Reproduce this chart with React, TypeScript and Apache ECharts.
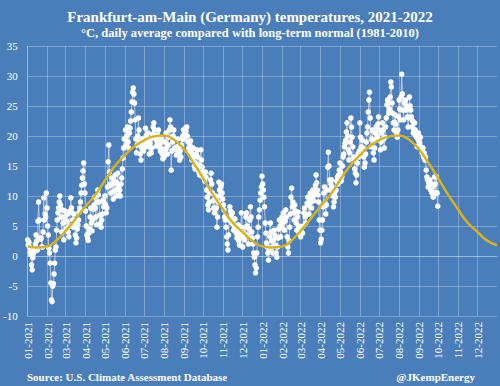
import React, { useEffect, useRef } from "react";
import * as echarts from "echarts";

const TITLE = "Frankfurt-am-Main (Germany) temperatures, 2021-2022";
const SUBTITLE = "°C, daily average compared with long-term normal (1981-2010)";
const SOURCE = "Source: U.S. Climate Assessment Database";
const HANDLE = "@JKempEnergy";
const SERIF = "'Liberation Serif', 'DejaVu Serif', serif";

// Axis range
const START_DATE = "2021-01-01";
const END_DATE = "2022-12-31";
const Y_MIN = -10;
const Y_MAX = 35;
const Y_STEP = 5;

// Daily average temperatures (°C), one array per month
const t2021_01 = [2.7,1.8,2.3,1.5,0.7,0.2,-1.5,-2.3,-0.3,0.4,1.2,0.8,2.0,3.5,2.5,1.0,5.8,9.0,6.0,3.0,2.8,3.0,1.5,1.5,4.0,9.7,6.0,7.0,6.5,10.5,8.0];
const t2021_02 = [5.0,3.5,1.3,0.5,-1.2,-4.5,-7.3,-7.6,-5.0,-4.6,-3.0,-1.2,1.0,1.5,4.3,6.0,7.2,8.0,9.0,10.0,8.5,6.5,4.0,7.7,5.5,2.7,6.5,7.5];
const t2021_03 = [6.0,4.5,5.8,7.0,4.0,3.2,5.0,7.5,9.7,8.0,7.2,6.0,4.8,7.0,5.5,3.5,2.2,3.0,4.5,5.2,6.0,7.3,8.0,9.0,10.5,11.8,13.0,14.2,15.5,12.0,10.5];
const t2021_04 = [7.5,5.0,3.5,3.0,2.6,3.8,4.5,6.5,8.0,5.5,4.2,6.0,7.8,8.5,9.8,8.0,6.5,5.2,9.0,11.0,10.2,9.0,6.8,5.5,4.8,6.0,7.0,9.3,8.2,8.8];
const t2021_05 = [10.0,8.5,7.2,8.0,11.5,15.7,18.5,14.0,12.0,10.5,11.8,13.0,12.0,9.5,10.8,12.5,13.5,11.0,10.0,12.2,13.8,11.5,10.2,11.0,10.0,12.0,13.0,14.5,16.3,18.0,19.5];
const t2021_06 = [19.5,21.0,18.5,20.0,21.5,19.0,18.0,20.5,21.3,22.5,24.0,25.7,27.3,28.0,27.0,25.5,22.7,19.5,17.2,18.5,20.0,23.0,21.0,19.0,17.0,16.0,18.0,19.5,18.5,17.5];
const t2021_07 = [18.0,19.5,21.3,20.0,18.5,19.0,20.5,18.2,17.0,18.8,19.5,17.2,18.0,20.3,21.5,22.2,21.0,20.0,19.5,18.3,19.0,20.2,21.0,19.5,18.2,17.5,18.8,19.5,17.0,16.2,17.8];
const t2021_08 = [16.5,17.7,19.0,20.5,18.0,17.0,18.5,19.8,21.0,22.7,21.5,14.3,17.5,19.0,20.0,21.0,19.5,18.0,17.7,16.8,18.2,19.5,18.0,17.2,16.0,17.5,16.5,18.5,19.5,20.0,21.0];
const t2021_09 = [19.5,20.5,21.3,20.8,21.5,20.0,19.0,18.0,17.2,18.5,19.2,17.5,16.0,16.8,18.0,16.5,15.0,14.5,15.5,17.0,17.7,16.5,15.2,14.0,13.5,15.0,17.7,16.0,14.8,13.2];
const t2021_10 = [14.0,13.0,12.5,14.0,13.2,11.0,9.8,8.5,7.7,9.0,10.5,12.7,13.8,12.0,10.5,9.2,8.0,7.2,9.5,10.0,8.0,4.8,6.5,9.0,12.3,11.0,10.0,11.5,12.0,10.5,9.5];
const t2021_11 = [8.5,7.7,6.5,6.0,4.8,3.2,2.0,1.0,3.5,6.0,8.2,7.5,6.8,5.5,7.2,6.0,4.3,5.0,6.2,4.5,3.8,3.0,4.0,5.2,2.5,1.8,3.2,4.8,7.2,4.0];
const t2021_12 = [1.5,3.0,3.8,2.7,4.8,6.5,7.2,5.0,3.5,2.0,4.5,6.0,8.2,6.5,4.0,3.0,2.0,0.5,-0.2,-1.5,-2.8,-2.0,0.5,3.2,4.8,6.5,7.7,9.3,10.5,11.5,13.3];
const t2022_01 = [12.0,11.0,9.8,8.2,5.5,3.8,2.2,1.5,0.5,-0.7,1.0,3.2,5.5,4.0,2.5,1.5,0.5,2.7,4.3,3.5,1.8,0.5,-0.2,1.5,3.0,4.5,6.0,5.0,3.2,4.8,6.5];
const t2022_02 = [5.5,7.2,6.0,4.3,5.8,7.7,6.5,3.2,1.5,0.5,2.5,4.8,7.0,9.8,11.3,8.2,9.0,7.2,6.0,8.5,7.5,5.5,4.3,6.5,7.3,5.0,3.8,4.5];
const t2022_03 = [3.2,4.0,4.8,3.8,5.0,7.2,8.0,6.5,5.5,6.8,8.8,9.8,8.5,7.0,9.3,10.5,9.0,8.0,9.5,11.0,10.0,9.2,10.5,11.8,13.5,12.2,11.0,10.2,9.0,6.0,4.3];
const t2022_04 = [2.2,2.8,4.3,6.0,8.2,10.5,11.5,8.8,7.0,8.5,11.0,14.8,17.3,15.0,12.7,11.0,12.0,12.7,11.5,10.0,8.2,9.0,10.5,9.8,11.0,12.5,13.2,12.0,13.5,14.3];
const t2022_05 = [15.5,14.0,12.5,13.2,15.0,16.5,17.0,18.2,18.8,19.3,20.7,22.2,20.0,17.7,16.0,17.2,19.0,23.0,21.5,19.8,18.2,16.5,16.0,14.5,13.8,12.2,13.5,15.5,17.0,16.5,17.5];
const t2022_06 = [22.2,19.8,18.2,17.7,19.3,18.0,16.5,14.8,15.5,17.0,19.0,20.5,21.5,24.0,26.0,27.3,23.0,18.2,19.5,21.0,19.3,17.2,16.0,18.0,20.5,21.5,19.5,20.0,22.0,23.2];
const t2022_07 = [21.0,19.3,17.7,19.0,20.5,22.2,21.0,19.5,18.0,19.8,21.5,23.0,25.2,26.0,25.5,23.8,24.5,26.5,29.0,28.2,25.5,23.8,22.2,21.0,22.3,23.5,22.0,20.5,19.8,21.0,23.2];
const t2022_08 = [26.0,24.5,22.7,26.5,30.3,27.0,24.3,22.7,25.5,25.7,26.0,24.3,25.0,23.2,21.5,23.0,26.5,25.0,24.3,23.2,21.5,22.5,20.5,21.0,22.2,21.0,20.0,19.8,18.2,19.5,20.5];
const t2022_09 = [19.3,18.8,19.8,18.2,17.7,17.2,18.0,16.5,17.2,16.0,16.5,14.3,13.2,12.7,11.5,12.2,11.5,12.7,11.0,12.0,10.5,11.5,9.8,10.5,13.2,12.0,10.5,13.2,10.5,8.3];

// Long-term normal (1981-2010), value on the 1st and 15th of each month (Jan..Dec)
const NORMAL_1ST = [1.6,1.6,4.2,8.3,12.6,16.8,19.3,20.1,17.8,12.9,7.7,4.0];
const NORMAL_15TH = [1.4,2.6,6.0,10.0,14.8,18.2,19.9,19.5,15.6,10.4,5.6,2.6];
const NORMAL_DEC31 = 1.8;
const NORMAL_YEARS = [2021, 2022];

const DAILY = [
  ...t2021_01, ...t2021_02, ...t2021_03, ...t2021_04, ...t2021_05, ...t2021_06,
  ...t2021_07, ...t2021_08, ...t2021_09, ...t2021_10, ...t2021_11, ...t2021_12,
  ...t2022_01, ...t2022_02, ...t2022_03, ...t2022_04, ...t2022_05, ...t2022_06,
  ...t2022_07, ...t2022_08, ...t2022_09,
];

const DAY_MS = 86400000;
const startMs = Date.parse(START_DATE + "T00:00:00Z");
const endMs = Date.parse(END_DATE + "T00:00:00Z");
const DATES: string[] = [];
for (let t = startMs; t <= endMs; t += DAY_MS) {
  DATES.push(new Date(t).toISOString().slice(0, 10));
}
const dayIndex = (y: number, m: number, d: number) =>
  Math.round((Date.UTC(y, m, d) - startMs) / DAY_MS);

const NORMAL: [number, number][] = [];
NORMAL_YEARS.forEach((y) => {
  for (let m = 0; m < 12; m++) {
    NORMAL.push([dayIndex(y, m, 1), NORMAL_1ST[m]]);
    NORMAL.push([dayIndex(y, m, 15), NORMAL_15TH[m]]);
  }
});
NORMAL.push([DATES.length - 1, NORMAL_DEC31]);

const isMonthStart = (i: number) => DATES[i] && DATES[i].slice(8, 10) === "01";

export default function App() {
  const ref = useRef<HTMLDivElement>(null);
  useEffect(() => {
    if (!ref.current) return;
    const chart = echarts.init(ref.current, undefined, { renderer: "svg" });
    const gridColor = "rgba(255,255,255,0.28)";
    chart.setOption({
      animation: false,
      backgroundColor: "#4a7ebb",
      title: [
        {
          text: TITLE,
          left: "center",
          top: 4,
          textStyle: { fontFamily: SERIF, fontWeight: "bold", fontSize: 15, color: "#ffffff" },
        },
        {
          text: SUBTITLE,
          left: "center",
          top: 21,
          textStyle: { fontFamily: SERIF, fontWeight: "bold", fontSize: 12.5, color: "#ffffff" },
        },
        {
          text: SOURCE,
          left: 22,
          top: 366,
          textStyle: { fontFamily: SERIF, fontWeight: "bold", fontSize: 11, color: "#ffffff" },
        },
        {
          text: HANDLE,
          right: 20,
          top: 366,
          textStyle: { fontFamily: SERIF, fontWeight: "bold", fontSize: 11, color: "#ffffff" },
        },
      ],
      grid: { left: 26, right: 3, top: 46, bottom: 70, containLabel: false },
      xAxis: {
        type: "category",
        data: DATES,
        boundaryGap: false,
        axisLine: { show: true, lineStyle: { color: gridColor } },
        axisTick: { show: false },
        axisLabel: {
          interval: (i: number) => isMonthStart(i),
          rotate: 90,
          margin: 6,
          color: "#ffffff",
          fontFamily: SERIF,
          fontSize: 11,
          formatter: (v: string) => v.slice(5, 7) + "-" + v.slice(0, 4),
        },
        splitLine: {
          show: true,
          interval: (i: number) => isMonthStart(i),
          lineStyle: { color: gridColor, width: 1 },
        },
      },
      yAxis: {
        type: "value",
        min: Y_MIN,
        max: Y_MAX,
        interval: Y_STEP,
        axisLine: { show: true, lineStyle: { color: gridColor } },
        axisTick: { show: false },
        axisLabel: { color: "#ffffff", fontFamily: SERIF, fontSize: 11, margin: 10 },
        splitLine: { show: true, lineStyle: { color: gridColor, width: 1 } },
      },
      series: [
        {
          name: "Daily",
          type: "line",
          data: DAILY,
          symbol: "circle",
          symbolSize: 5.5,
          showAllSymbol: true,
          itemStyle: { color: "#ffffff", borderWidth: 0 },
          lineStyle: { color: "rgba(200,206,218,0.9)", width: 1 },
          z: 2,
        },
        {
          name: "Normal",
          type: "line",
          data: NORMAL,
          smooth: 0.5,
          symbol: "none",
          lineStyle: { color: "#d9b21f", width: 2.5 },
          z: 3,
        },
      ],
    });
    return () => chart.dispose();
  }, []);
  return (
    <div
      ref={ref}
      style={{ position: "absolute", left: 0, top: 0, width: 500, height: 386 }}
    />
  );
}
